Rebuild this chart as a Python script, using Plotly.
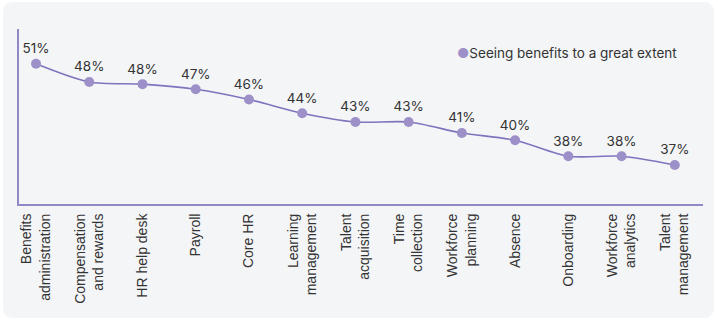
import plotly.graph_objects as go

categories = [
    "Benefits<br>administration", "Compensation<br>and rewards", "HR help desk",
    "Payroll", "Core HR", "Learning<br>management", "Talent<br>acquisition",
    "Time<br>collection", "Workforce<br>planning", "Absence", "Onboarding",
    "Workforce<br>analytics", "Talent<br>management",
]
values = [50.9, 48.4, 48.1, 47.4, 46.0, 44.1, 42.9, 42.9, 41.4, 40.4, 38.2, 38.2, 37.0]
series_name = "Seeing benefits to a great extent"

PURPLE = "#9d90c8"
LINE = "#7f73bd"
AXIS = "#9288c8"
TEXT = "#333333"
BG = "#f4f5f7"

W, H = 718, 322
ml, mr, mt, mb = 19, 15, 29, 118
pw, ph = W - ml - mr, H - mt - mb


def px_x(p):
    return (p - ml) / pw


def px_y(p):
    return (H - mb - p) / ph


# rounded background box
x0, x1, y0, y1, r = 3, 714, 2, 318, 11
path = (
    f"M {px_x(x0 + r)},{px_y(y0)} L {px_x(x1 - r)},{px_y(y0)} "
    f"Q {px_x(x1)},{px_y(y0)} {px_x(x1)},{px_y(y0 + r)} "
    f"L {px_x(x1)},{px_y(y1 - r)} Q {px_x(x1)},{px_y(y1)} {px_x(x1 - r)},{px_y(y1)} "
    f"L {px_x(x0 + r)},{px_y(y1)} Q {px_x(x0)},{px_y(y1)} {px_x(x0)},{px_y(y1 - r)} "
    f"L {px_x(x0)},{px_y(y0 + r)} Q {px_x(x0)},{px_y(y0)} {px_x(x0 + r)},{px_y(y0)} Z"
)

fig = go.Figure()
fig.add_trace(go.Scatter(
    x=categories, y=values, name=series_name,
    mode="lines+markers+text",
    line=dict(color=LINE, width=1.6, shape="spline", smoothing=0.8),
    marker=dict(color=PURPLE, size=10),
    texttemplate="%{y:.0f}%",
    textposition="top center",
    textfont=dict(family="Inter", size=13.5, color=TEXT),
    cliponaxis=False,
    showlegend=False,
))

fig.update_layout(
    width=W, height=H,
    margin=dict(l=ml, r=mr, t=mt, b=mb),
    paper_bgcolor="white",
    plot_bgcolor="rgba(0,0,0,0)",
    shapes=[dict(type="path", path=path, xref="paper", yref="paper",
                 fillcolor=BG, line=dict(width=0), layer="below")],
    xaxis=dict(
        range=[-0.32, 12.53], showline=True, linecolor=AXIS, linewidth=2,
        showgrid=False, zeroline=False, ticks="", tickangle=-90,
        tickfont=dict(family="Liberation Sans", size=14, color=TEXT),
        ticklabelstandoff=2,
    ),
    yaxis=dict(
        range=[31.65, 55.67], showline=True, linecolor=AXIS, linewidth=2,
        showgrid=False, zeroline=False, ticks="", showticklabels=False,
    ),
    annotations=[dict(
        xref="paper", yref="paper", x=px_x(455), y=px_y(53),
        xanchor="left", yanchor="middle", showarrow=False,
        text=f"<span style='color:{PURPLE}'>●</span>{series_name}",
        font=dict(family="Inter", size=13.5, color=TEXT),
    )],
)

fig.write_html("out.html")
